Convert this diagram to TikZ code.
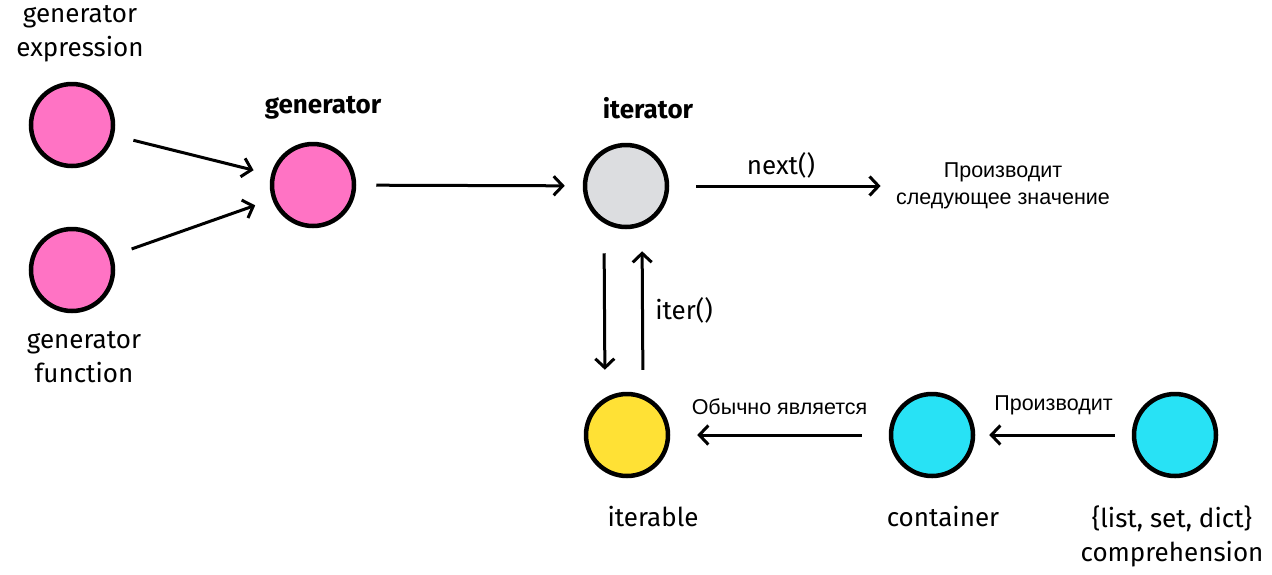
\documentclass[tikz,border=0pt]{standalone}
\usepackage{fontspec}
\setmainfont{Fira Sans}
\newfontfamily\rufont{Liberation Sans}
\usepackage{tikz}
\usetikzlibrary{arrows.meta}
\definecolor{RosaGenerador}{RGB}{255,115,196}
\definecolor{GrisIterador}{RGB}{220,221,224}
\definecolor{AmarilloIterable}{RGB}{255,225,53}
\definecolor{CianContenedor}{RGB}{40,226,245}

\begin{document}
\begin{tikzpicture}[x=1pt,y=-1pt,>={Straight Barb[length=9pt,width=19pt]},
  bola/.style={circle,draw,line width=4.5pt,minimum size=82pt,inner sep=0pt},
  texto/.style={font=\fontsize{26}{34}\selectfont,align=center},
  negrita/.style={font=\fontsize{26}{30}\selectfont\bfseries},
  ruso/.style={font=\fontsize{21.5}{27}\selectfont\rufont,align=center},
  flecha/.style={->,line width=3pt,shorten >=18pt,shorten <=20pt}]
  \useasboundingbox (0,0) rectangle (1272,574);
  \node[bola,fill=RosaGenerador] (genexp) at (72,125) {};
  \node[bola,fill=RosaGenerador] (genfun) at (72,270) {};
  \node[bola,fill=RosaGenerador] (gen) at (313,185) {};
  \node[bola,fill=GrisIterador] (iter) at (626,186) {};
  \node[bola,fill=AmarilloIterable] (itble) at (627,435) {};
  \node[bola,fill=CianContenedor] (cont) at (932,435) {};
  \node[bola,fill=CianContenedor] (compr) at (1175,435) {};
  \node[texto] (tgenexp) at (80,34) {generator\\expression};
  \node[texto] (tgenfun) at (84,357) {generator\\function};
  \node[negrita] (tgen) at (323,108) {generator};
  \node[negrita] (titer) at (648,108) {iterator};
  \node[ruso] (tsig) at (1003,186) {Производит\\следующее значение};
  \node[texto] (titble) at (653,517) {iterable};
  \node[texto] (tcont) at (943,517) {container};
  \node[texto] (tcompr) at (1172,536) {\{list, set, dict\}\\comprehension};
  \draw[flecha] (genexp) -- (gen);
  \draw[flecha] (genfun) -- (gen);
  \draw[flecha] (gen) -- (iter);
  \draw[flecha,shorten <=27pt,shorten >=12pt] (iter) -- (tsig.west |- iter)
    node[midway,above=3pt,texto] {next()};
  \draw[flecha,shorten <=24pt,shorten >=22pt] ([xshift=-22pt]iter.south) -- ([xshift=-22pt]itble.north);
  \draw[flecha,shorten <=22pt,shorten >=22pt] ([xshift=16pt]itble.north) -- ([xshift=16pt]iter.south)
    node[midway,right=8pt,texto] {iter()};
  \draw[flecha,shorten <=27pt,shorten >=27pt] (cont) -- (itble)
    node[midway,above=15pt,ruso] {Обычно является};
  \draw[flecha,shorten <=17pt,shorten >=14pt] (compr) -- (cont)
    node[midway,above=15pt,ruso] {Производит};
\end{tikzpicture}
\end{document}
